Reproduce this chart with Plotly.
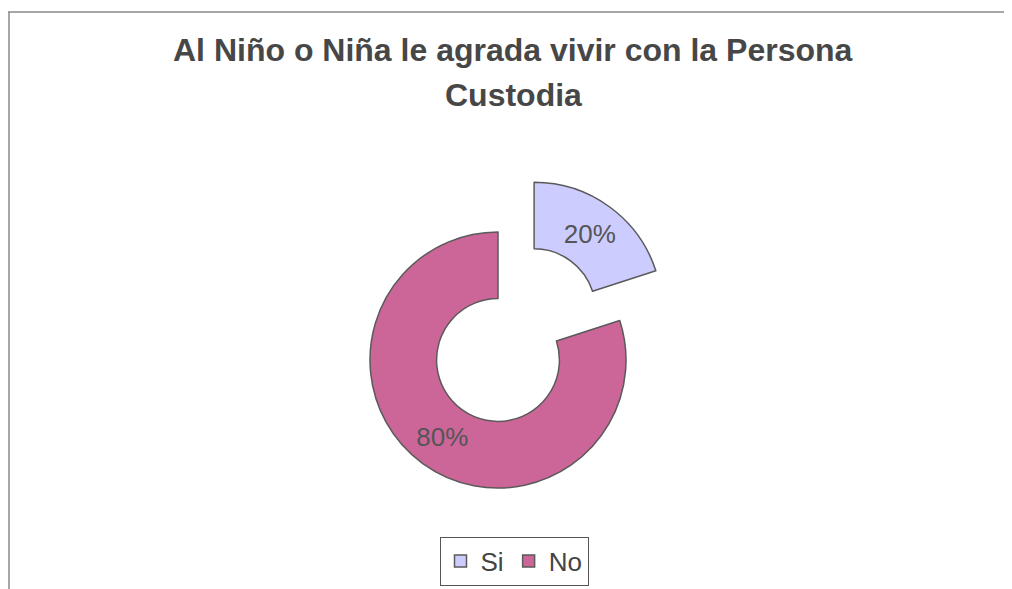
import plotly.graph_objects as go

categories = ["Si", "No"]
values = [20, 80]
colors = ["#ccccff", "#cc6699"]
pulls = [0.48, 0]
title_lines = ["Al Niño o Niña le agrada vivir con la Persona", "Custodia"]

# page has an 8px body margin; work in figure coordinates = reference - 8
W, H = 1004, 581
cx, cy, r, pull = 490, 352, 128, 0.48
half = r * (1 + pull)
FONT = "Liberation Sans, Arial"

fig = go.Figure(go.Pie(
    labels=categories,
    values=values,
    hole=0.48,
    sort=False,
    direction="clockwise",
    rotation=0,
    pull=pulls,
    marker=dict(colors=colors, line=dict(color="#5a5a5a", width=1.5)),
    texttemplate="%{percent:.0%}",
    textposition="inside",
    insidetextorientation="horizontal",
    textfont=dict(family=FONT, size=26, color="#555555"),
    domain=dict(x=[(cx - half) / W, (cx + half) / W],
                y=[1 - (cy + half) / H, 1 - (cy - half) / H]),
    showlegend=True,
))

for txt, yy in zip(title_lines, [42, 87]):
    fig.add_annotation(text="<b>" + txt + "</b>", x=505 / W, y=1 - yy / H, xref="paper", yref="paper",
                       showarrow=False, font=dict(family=FONT, size=32, color="#474747"),
                       xanchor="center", yanchor="middle")

fig.add_shape(type="line", xref="paper", yref="paper", x0=0, x1=997 / W, y0=1 - 4 / H, y1=1 - 4 / H,
              line=dict(color="#8a8a8a", width=1.5))
fig.add_shape(type="line", xref="paper", yref="paper", x0=1 / W, x1=1 / W, y0=1 - 4 / H, y1=0,
              line=dict(color="#8a8a8a", width=1.5))

fig.update_layout(
    width=W, height=H,
    margin=dict(l=0, r=0, t=0, b=0),
    paper_bgcolor="white",
    plot_bgcolor="white",
    legend=dict(orientation="h", x=506 / W, y=1 - 553 / H, xanchor="center", yanchor="middle",
                bordercolor="#555555", borderwidth=1, bgcolor="white",
                font=dict(family=FONT, size=26, color="#444444"),
                itemwidth=30, tracegroupgap=0),
)

fig.write_html("out.html")
